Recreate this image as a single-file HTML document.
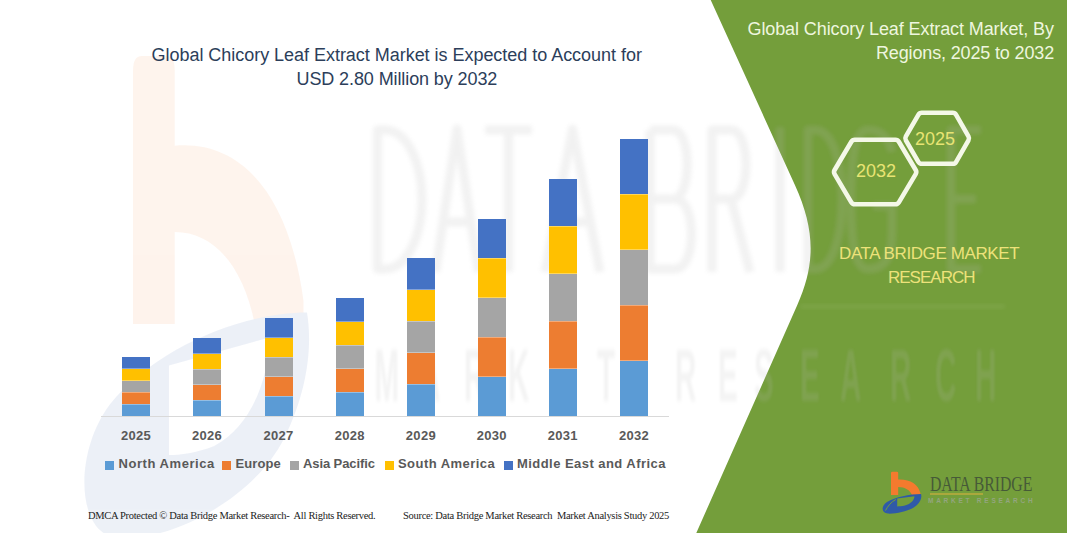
<!DOCTYPE html>
<html><head><meta charset="utf-8">
<style>
*{margin:0;padding:0;box-sizing:border-box}
html,body{width:1067px;height:533px;overflow:hidden;background:#fff}
body{position:relative;font-family:"Liberation Sans",sans-serif}
.a{position:absolute;white-space:pre}
.bar{position:absolute;width:28px}
.seg{position:absolute;left:0;width:100%}
.sep{position:absolute;left:0;width:100%;height:1px;background:rgba(255,255,255,0.35)}
.yr{position:absolute;top:428px;width:60px;text-align:center;font-weight:700;font-size:13px;color:#595959;letter-spacing:0.3px}
.lg{position:absolute;top:456px;font-weight:700;font-size:13px;color:#595959;white-space:pre}
.sq{position:absolute;top:461px;width:9px;height:9px}
</style></head><body>

<!-- green shape -->
<svg class="a" style="left:0;top:0" width="1067" height="533" viewBox="0 0 1067 533">
  <path d="M710.7,0 L1067,0 L1067,533 L696.3,533 L797.3,305 C815.8,263.5 815.1,229.4 794.9,185 Z" fill="#749E3B"/>
</svg>

<!-- watermark -->
<svg class="a" style="left:0;top:0" width="1067" height="533" viewBox="0 0 1067 533">
  <g transform="translate(69.2,36.5) scale(5.8,11.5)" opacity="0.085">
    <path d="M11,25 L11,3 Q11,1.7 12.5,1.7 L16.7,1.7 Q18.2,1.7 18.2,3 L18.2,9.5 C30,9 38,14 40.4,23 L40.4,25 L32,25 C30,20 25,17 18.2,17 L18.2,25 Z" fill="#F47A2E"/>
    <path d="M41,24 C30,24 15,27 7,32 C1,36 1,43 8,43.6 C18,44 32,40 37,35 C41,31 42,27 41,24 Z M17.2,28.6 L34.4,26.2 C34.5,30 31,34 25,35.6 C22,36.2 19,36.4 17.2,36.4 Z" fill="#2F5AA8" fill-rule="evenodd"/>
  </g>
</svg>
<svg class="a" style="left:0;top:0" width="1067" height="533" viewBox="0 0 1067 533">
  <defs><filter id="bl" x="-10%" y="-10%" width="120%" height="120%"><feGaussianBlur stdDeviation="2.2"/></filter></defs>
  <g fill="none" stroke="#8C8C8C" stroke-width="9" opacity="0.11" stroke-linejoin="round" filter="url(#bl)">
    <path d="M377.5,130 L385,130 C406,130 422,161 422,199.5 C422,238 406,269 385,269 L377.5,269 Z"/>
    <path d="M435.6,272 L457,129 L478.5,272 M443,222 L471,222"/>
    <path d="M485,130 L532,130 M508.5,130 L508.5,272"/>
    <path d="M545,272 L572.5,129 L600,272 M554,222 L591,222"/>
    <path d="M650,130 L650,269 L675,269 C697,269 697,199 675,199 L650,199 M650,130 L673,130 C692,130 692,199 673,199"/>
    <path d="M712,272 L712,130 L731,130 C751,130 751,199 731,199 L712,199 M731,199 L750,272"/>
    <path d="M780,127 L780,272"/>
    <path d="M808,130 L815,130 C832,130 842,161 842,199.5 C842,238 832,269 815,269 L808,269 Z"/>
    <path d="M892,152 C888,134 878,130 868,130 C854,130 851,160 851,199.5 C851,240 854,269 868,269 C885,269 892,258 892,232 L892,206 L873,206"/>
    <path d="M981,130 L951,130 L951,269 L981,269 M951,199 L976,199"/>
  </g>
  <text x="936.2 1047.5 1160.0 1270.0 1382.5 1492.5 1687.5 1795.0 1885.0 2000.0 2100.0 2225.0 2337.5 2437.5" y="0" font-family="Liberation Sans" font-weight="700" font-size="74" fill="#808080" opacity="0.085" filter="url(#bl)" transform="translate(0,401) scale(0.4,1)">MARKETRESEARCH</text>
  <clipPath id="gc"><path d="M710.7,0 L1067,0 L1067,533 L696.3,533 L797.3,305 C815.8,263.5 815.1,229.4 794.9,185 Z"/></clipPath>
  <g clip-path="url(#gc)">
  <rect x="800" y="304" width="205" height="5" fill="#FFFFFF" opacity="0.06" filter="url(#bl)"/>
  <g fill="none" stroke="#FFFFFF" stroke-width="9" opacity="0.07" stroke-linejoin="round" filter="url(#bl)">
    <path d="M377.5,130 L385,130 C406,130 422,161 422,199.5 C422,238 406,269 385,269 L377.5,269 Z"/>
    <path d="M435.6,272 L457,129 L478.5,272 M443,222 L471,222"/>
    <path d="M485,130 L532,130 M508.5,130 L508.5,272"/>
    <path d="M545,272 L572.5,129 L600,272 M554,222 L591,222"/>
    <path d="M650,130 L650,269 L675,269 C697,269 697,199 675,199 L650,199 M650,130 L673,130 C692,130 692,199 673,199"/>
    <path d="M712,272 L712,130 L731,130 C751,130 751,199 731,199 L712,199 M731,199 L750,272"/>
    <path d="M780,127 L780,272"/>
    <path d="M808,130 L815,130 C832,130 842,161 842,199.5 C842,238 832,269 815,269 L808,269 Z"/>
    <path d="M892,152 C888,134 878,130 868,130 C854,130 851,160 851,199.5 C851,240 854,269 868,269 C885,269 892,258 892,232 L892,206 L873,206"/>
    <path d="M981,130 L951,130 L951,269 L981,269 M951,199 L976,199"/>
  </g>
  <text x="936.2 1047.5 1160.0 1270.0 1382.5 1492.5 1687.5 1795.0 1885.0 2000.0 2100.0 2225.0 2337.5 2437.5" y="0" font-family="Liberation Sans" font-weight="700" font-size="74" fill="#FFFFFF" opacity="0.08" filter="url(#bl)" transform="translate(0,401) scale(0.4,1)">MARKETRESEARCH</text>
  </g>
</svg>

<!-- title -->
<div class="a" style="left:151.5px;top:45.3px;font-size:18px;color:#2C3E5A;letter-spacing:-0.03px">Global Chicory Leaf Extract Market is Expected to Account for</div>
<div class="a" style="left:296.5px;top:69px;font-size:18px;color:#2C3E5A;letter-spacing:-0.1px">USD 2.80 Million by 2032</div>

<!-- right title -->
<div class="a" style="left:747.5px;top:18.8px;font-size:18px;color:#EEF6DF;letter-spacing:-0.1px">Global Chicory Leaf Extract Market, By</div>
<div class="a" style="left:876px;top:42.7px;font-size:18px;color:#EEF6DF;letter-spacing:-0.15px">Regions, 2025 to 2032</div>

<!-- hexagons -->
<svg class="a" style="left:0;top:0" width="1067" height="533" viewBox="0 0 1067 533">
  <g fill="none" stroke="#F4F8E8" stroke-width="4.6" stroke-linejoin="round">
    <path d="M834.61,174.09 Q833.40,172.05 834.61,170.01 L851.34,141.76 Q852.50,139.80 854.78,139.80 L895.43,139.80 Q897.70,139.80 898.86,141.75 L915.68,170.00 Q916.90,172.05 915.68,174.10 L898.86,202.35 Q897.70,204.30 895.43,204.30 L854.78,204.30 Q852.50,204.30 851.34,202.34 Z"/>
    <path d="M905.87,140.31 Q904.70,138.30 905.87,136.29 L918.34,114.79 Q919.50,112.80 921.80,112.80 L952.68,112.80 Q955.00,112.80 956.15,114.81 L968.46,136.31 Q969.60,138.30 968.46,140.29 L956.15,161.79 Q955.00,163.80 952.68,163.80 L921.80,163.80 Q919.50,163.80 918.34,161.81 Z"/>
  </g>
</svg>
<div class="a" style="left:856px;top:161px;font-size:18px;color:#E8E474">2032</div>
<div class="a" style="left:915px;top:129px;font-size:18px;color:#E8E474">2025</div>

<div class="a" style="left:839px;top:244px;font-size:17px;color:#EDE27A;letter-spacing:-0.4px">DATA BRIDGE MARKET</div>
<div class="a" style="left:888px;top:268px;font-size:17px;color:#EDE27A;letter-spacing:-1px">RESEARCH</div>

<!-- axis -->
<div class="a" style="left:101px;top:416px;width:568px;height:1px;background:#D9D9D9"></div>

<!-- bars -->
<div id="bars">
<div class="bar" style="left:122px;top:357px;height:59px"><div class="seg" style="top:47.20px;height:11.80px;background:#5B9BD5"></div><div class="seg" style="top:35.40px;height:11.80px;background:#ED7D31"></div><div class="seg" style="top:23.60px;height:11.80px;background:#A5A5A5"></div><div class="seg" style="top:11.80px;height:11.80px;background:#FFC000"></div><div class="seg" style="top:0.00px;height:11.80px;background:#4472C4"></div><div class="sep" style="top:46.70px"></div><div class="sep" style="top:34.90px"></div><div class="sep" style="top:23.10px"></div><div class="sep" style="top:11.30px"></div></div>
<div class="yr" style="left:106px">2025</div>
<div class="bar" style="left:193px;top:338px;height:78px"><div class="seg" style="top:62.40px;height:15.60px;background:#5B9BD5"></div><div class="seg" style="top:46.80px;height:15.60px;background:#ED7D31"></div><div class="seg" style="top:31.20px;height:15.60px;background:#A5A5A5"></div><div class="seg" style="top:15.60px;height:15.60px;background:#FFC000"></div><div class="seg" style="top:0.00px;height:15.60px;background:#4472C4"></div><div class="sep" style="top:61.90px"></div><div class="sep" style="top:46.30px"></div><div class="sep" style="top:30.70px"></div><div class="sep" style="top:15.10px"></div></div>
<div class="yr" style="left:177px">2026</div>
<div class="bar" style="left:264.5px;top:318px;height:98px"><div class="seg" style="top:78.40px;height:19.60px;background:#5B9BD5"></div><div class="seg" style="top:58.80px;height:19.60px;background:#ED7D31"></div><div class="seg" style="top:39.20px;height:19.60px;background:#A5A5A5"></div><div class="seg" style="top:19.60px;height:19.60px;background:#FFC000"></div><div class="seg" style="top:0.00px;height:19.60px;background:#4472C4"></div><div class="sep" style="top:77.90px"></div><div class="sep" style="top:58.30px"></div><div class="sep" style="top:38.70px"></div><div class="sep" style="top:19.10px"></div></div>
<div class="yr" style="left:248.5px">2027</div>
<div class="bar" style="left:335.8px;top:298px;height:118px"><div class="seg" style="top:94.40px;height:23.60px;background:#5B9BD5"></div><div class="seg" style="top:70.80px;height:23.60px;background:#ED7D31"></div><div class="seg" style="top:47.20px;height:23.60px;background:#A5A5A5"></div><div class="seg" style="top:23.60px;height:23.60px;background:#FFC000"></div><div class="seg" style="top:0.00px;height:23.60px;background:#4472C4"></div><div class="sep" style="top:93.90px"></div><div class="sep" style="top:70.30px"></div><div class="sep" style="top:46.70px"></div><div class="sep" style="top:23.10px"></div></div>
<div class="yr" style="left:319.8px">2028</div>
<div class="bar" style="left:406.9px;top:258px;height:158px"><div class="seg" style="top:126.40px;height:31.60px;background:#5B9BD5"></div><div class="seg" style="top:94.80px;height:31.60px;background:#ED7D31"></div><div class="seg" style="top:63.20px;height:31.60px;background:#A5A5A5"></div><div class="seg" style="top:31.60px;height:31.60px;background:#FFC000"></div><div class="seg" style="top:0.00px;height:31.60px;background:#4472C4"></div><div class="sep" style="top:125.90px"></div><div class="sep" style="top:94.30px"></div><div class="sep" style="top:62.70px"></div><div class="sep" style="top:31.10px"></div></div>
<div class="yr" style="left:390.9px">2029</div>
<div class="bar" style="left:477.7px;top:219px;height:197px"><div class="seg" style="top:157.60px;height:39.40px;background:#5B9BD5"></div><div class="seg" style="top:118.20px;height:39.40px;background:#ED7D31"></div><div class="seg" style="top:78.80px;height:39.40px;background:#A5A5A5"></div><div class="seg" style="top:39.40px;height:39.40px;background:#FFC000"></div><div class="seg" style="top:0.00px;height:39.40px;background:#4472C4"></div><div class="sep" style="top:157.10px"></div><div class="sep" style="top:117.70px"></div><div class="sep" style="top:78.30px"></div><div class="sep" style="top:38.90px"></div></div>
<div class="yr" style="left:461.7px">2030</div>
<div class="bar" style="left:548.8px;top:178.5px;height:237.5px"><div class="seg" style="top:190.00px;height:47.50px;background:#5B9BD5"></div><div class="seg" style="top:142.50px;height:47.50px;background:#ED7D31"></div><div class="seg" style="top:95.00px;height:47.50px;background:#A5A5A5"></div><div class="seg" style="top:47.50px;height:47.50px;background:#FFC000"></div><div class="seg" style="top:0.00px;height:47.50px;background:#4472C4"></div><div class="sep" style="top:189.50px"></div><div class="sep" style="top:142.00px"></div><div class="sep" style="top:94.50px"></div><div class="sep" style="top:47.00px"></div></div>
<div class="yr" style="left:532.8px">2031</div>
<div class="bar" style="left:620px;top:139px;height:277px"><div class="seg" style="top:221.60px;height:55.40px;background:#5B9BD5"></div><div class="seg" style="top:166.20px;height:55.40px;background:#ED7D31"></div><div class="seg" style="top:110.80px;height:55.40px;background:#A5A5A5"></div><div class="seg" style="top:55.40px;height:55.40px;background:#FFC000"></div><div class="seg" style="top:0.00px;height:55.40px;background:#4472C4"></div><div class="sep" style="top:221.10px"></div><div class="sep" style="top:165.70px"></div><div class="sep" style="top:110.30px"></div><div class="sep" style="top:54.90px"></div></div>
<div class="yr" style="left:604px">2032</div>
</div>

<!-- legend -->
<div class="sq" style="left:105px;background:#5B9BD5"></div><div class="lg" style="left:118.5px;letter-spacing:0.55px">North America</div>
<div class="sq" style="left:222px;background:#ED7D31"></div><div class="lg" style="left:235.5px;letter-spacing:0.1px">Europe</div>
<div class="sq" style="left:290px;background:#A5A5A5"></div><div class="lg" style="left:303px;letter-spacing:-0.1px">Asia Pacific</div>
<div class="sq" style="left:385px;background:#FFC000"></div><div class="lg" style="left:398px;letter-spacing:0.45px">South America</div>
<div class="sq" style="left:503.5px;background:#4472C4"></div><div class="lg" style="left:517px;letter-spacing:0.45px">Middle East and Africa</div>

<!-- logo -->
<svg class="a" style="left:880px;top:470px;overflow:visible" width="160" height="48" viewBox="0 0 160 48">
  <path d="M11,25 L11,3 Q11,1.7 12.5,1.7 L16.7,1.7 Q18.2,1.7 18.2,3 L18.2,9.5 C30,9 38,14 40.4,23 L40.4,25 L32,25 C30,20 25,17 18.2,17 L18.2,25 Z" fill="#F47A2E"/>
  <path d="M41,24 C30,24 15,27 7,32 C1,36 1,43 8,43.6 C18,44 32,40 37,35 C41,31 42,27 41,24 Z M17.2,28.6 L34.4,26.2 C34.5,30 31,34 25,35.6 C22,36.2 19,36.4 17.2,36.4 Z" fill="#2F5AA8" fill-rule="evenodd"/>
  <path d="M5.5,40.5 C8,36 11,32 15.8,29.5" stroke="#749E3B" stroke-width="1" fill="none"/>
  <text x="50" y="21.2" font-family="Liberation Serif" font-size="21" fill="#465A38" transform="translate(50,0) scale(0.75,1) translate(-50,0)">DATA BRIDGE</text>
  <rect x="50" y="23.4" width="53" height="1.2" fill="#CDB03E"/>
  <text x="48" y="33" font-family="Liberation Sans" font-weight="700" font-size="6.5" fill="#93A57F" letter-spacing="2.75">MARKET  RESEARCH</text>
</svg>

<!-- footer -->
<div class="a" style="left:88px;top:509.5px;font-family:'Liberation Serif',serif;font-size:10.5px;color:#222;letter-spacing:-0.3px">DMCA Protected © Data Bridge Market Research-  All Rights Reserved.</div>
<div class="a" style="left:403px;top:509.5px;font-family:'Liberation Serif',serif;font-size:10.5px;color:#222;letter-spacing:-0.3px">Source: Data Bridge Market Research  Market Analysis Study 2025</div>

</body></html>
